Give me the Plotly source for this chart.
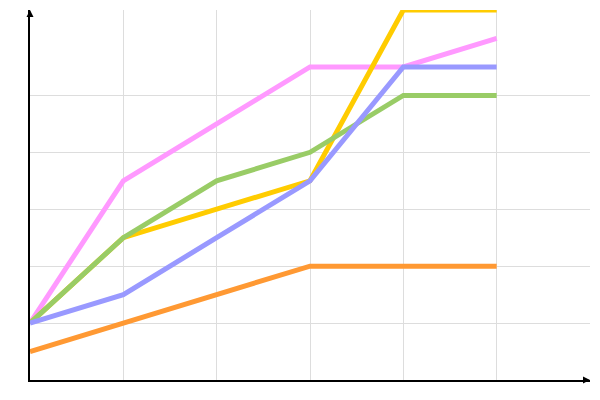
import plotly.graph_objects as go

x_vals = [0, 1, 2, 3, 4, 5]
pink = [1, 3.5, 4.5, 5.5, 5.5, 6]
yellow = [1, 2.5, 3, 3.5, 6.5, 6.5]
green = [1, 2.5, 3.5, 4, 5, 5]
blue = [1, 1.5, 2.5, 3.5, 5.5, 5.5]
orange = [0.5, 1, 1.5, 2, 2, 2]

series = [
    ("pink", pink, "#ff99ff"),
    ("yellow", yellow, "#ffcc00"),
    ("green", green, "#99cc66"),
    ("blue", blue, "#9999ff"),
    ("orange", orange, "#ff9933"),
]

fig = go.Figure()
for name, vals, col in series:
    fig.add_trace(go.Scatter(x=x_vals, y=vals, mode="lines", name=name,
                             line=dict(color=col, width=5), cliponaxis=False))

# page body has an 8px default margin; compensate so plot area sits at 30..590 x 10..380
fig.update_layout(
    width=592, height=392,
    margin=dict(l=22, r=10, t=2, b=20, autoexpand=False),
    plot_bgcolor="white", paper_bgcolor="white",
    showlegend=False,
    xaxis=dict(range=[0, 6], tickvals=[1, 2, 3, 4, 5], showticklabels=False,
               showgrid=True, gridcolor="#dddddd", gridwidth=1, zeroline=False,
               showline=True, linecolor="black", linewidth=1.5, ticks="",
               automargin=False),
    yaxis=dict(range=[0, 6.5], tickvals=[1, 2, 3, 4, 5], showticklabels=False,
               showgrid=True, gridcolor="#dddddd", gridwidth=1, zeroline=False,
               showline=True, linecolor="black", linewidth=1.5, ticks="",
               automargin=False),
)

fig.add_annotation(x=1, y=0, xref="paper", yref="paper", ax=-6, ay=0,
                   text="", showarrow=True, arrowhead=2, arrowsize=0.7,
                   arrowwidth=2, arrowcolor="black")
fig.add_annotation(x=0, y=1, xref="paper", yref="paper", ax=0, ay=6,
                   text="", showarrow=True, arrowhead=2, arrowsize=0.7,
                   arrowwidth=2, arrowcolor="black")

fig.write_html("out.html")
